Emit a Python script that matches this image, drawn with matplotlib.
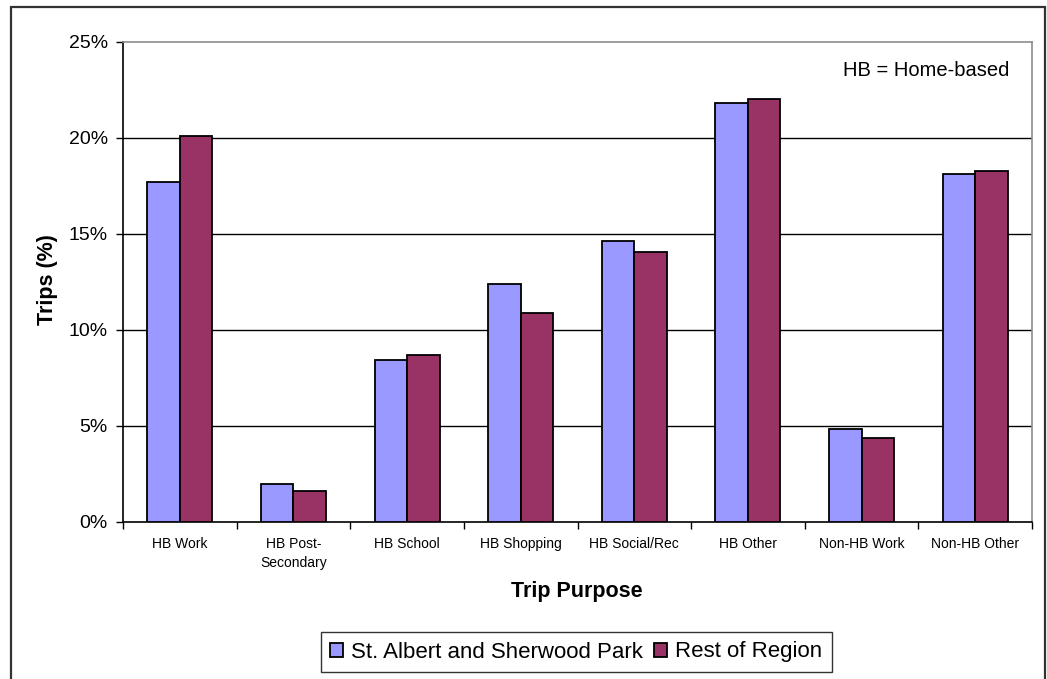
import matplotlib
import matplotlib.pyplot as plt
import numpy as np
from matplotlib.patches import Rectangle
from matplotlib.ticker import FixedLocator, PercentFormatter

matplotlib.use("Agg")

# --- Data ---
purposes = [
    "HB Work", "HB Post-\nSecondary", "HB School", "HB Shopping",
    "HB Social/Rec", "HB Other", "Non-HB Work", "Non-HB Other",
]
st_albert_sherwood = [17.7, 2.0, 8.45, 12.4, 14.65, 21.8, 4.85, 18.15]
rest_of_region = [20.1, 1.6, 8.7, 10.9, 14.05, 22.05, 4.4, 18.3]
series_names = ["St. Albert and Sherwood Park", "Rest of Region"]
y_ticks = [0, 5, 10, 15, 20, 25]

BLUE = "#9999FF"
PLUM = "#993366"

plt.rcParams["font.family"] = ["Liberation Sans", "DejaVu Sans"]

fig = plt.figure(figsize=(10.47, 6.79), dpi=100)
ax = fig.add_axes([123 / 1047, 1 - 522 / 679, 909 / 1047, 480 / 679])

x = np.arange(len(purposes))
w = 0.286
ax.bar(x - w / 2, st_albert_sherwood, width=w, color=BLUE, edgecolor="black",
       linewidth=1.3, label=series_names[0], zorder=3)
ax.bar(x + w / 2, rest_of_region, width=w, color=PLUM, edgecolor="black",
       linewidth=1.3, label=series_names[1], zorder=3)

ax.set_xlim(-0.5, len(purposes) - 0.5)
ax.set_ylim(0, 25)

# y axis
ax.set_yticks(y_ticks)
ax.yaxis.set_major_formatter(PercentFormatter(decimals=0))
ax.tick_params(axis="y", direction="out", length=5, width=1, pad=6,
               labelsize=14, color="black")
for v in y_ticks[1:-1]:
    ax.axhline(v, color="black", linewidth=1, zorder=1)

# x axis: ticks between categories, labels at centers
ax.xaxis.set_major_locator(FixedLocator(np.arange(len(purposes) + 1) - 0.5))
ax.xaxis.set_minor_locator(FixedLocator(x))
ax.xaxis.set_major_formatter(plt.NullFormatter())
ax.set_xticks(x, purposes, minor=True)
ax.tick_params(axis="x", which="major", direction="out", length=5, width=1)
ax.tick_params(axis="x", which="minor", length=0, pad=11, labelsize=10)
for lbl in ax.get_xticklabels(minor=True):
    lbl.set_linespacing(1.45)

for side in ("top", "right"):
    ax.spines[side].set_color("#8c8c8c")
    ax.spines[side].set_linewidth(1.2)
for side in ("left", "bottom"):
    ax.spines[side].set_color("black")
    ax.spines[side].set_linewidth(1.2)

fig.text(47 / 1047, 1 - 280 / 679, "Trips (%)", rotation=90, ha="center",
         va="center", fontsize=15.5, fontweight="bold")
fig.text(577 / 1047, 1 - 592 / 679, "Trip Purpose", ha="center", va="center",
         fontsize=15.5, fontweight="bold")
ax.text(0.975, 0.94, "HB = Home-based", transform=ax.transAxes, ha="right",
        va="center", fontsize=14.5)

leg = fig.legend(loc="center", bbox_to_anchor=(576 / 1047, 1 - 652 / 679),
                 ncol=2, fontsize=16, frameon=True, fancybox=False,
                 handlelength=0.6, handleheight=0.6, handletextpad=0.35,
                 columnspacing=0.5, borderpad=0.42, borderaxespad=0)
leg.get_frame().set_edgecolor("black")
leg.get_frame().set_linewidth(1.0)

# outer chart border
fig.patches.append(Rectangle((11 / 1047, -0.05), (1045 - 11) / 1047,
                             1.05 - 7 / 679, transform=fig.transFigure,
                             fill=False, edgecolor="#333333", linewidth=1.6))

fig.savefig("out.png", dpi=100)
